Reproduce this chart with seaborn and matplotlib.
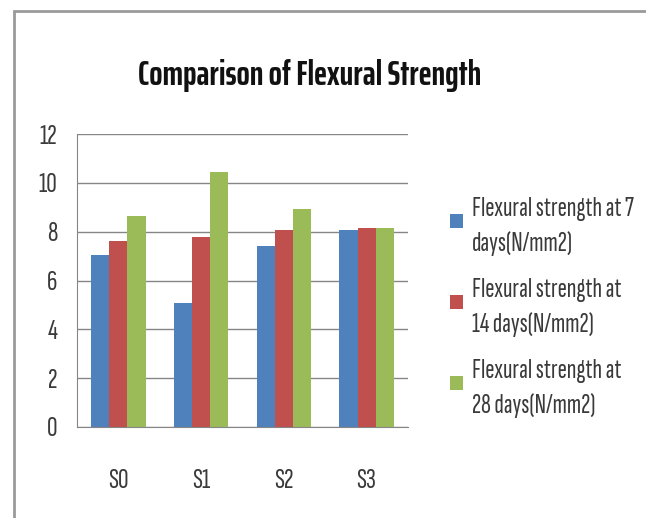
import pandas as pd
import matplotlib.pyplot as plt
import seaborn as sns
from matplotlib.patches import Rectangle
from matplotlib.legend_handler import HandlerPatch

sns.set_style("white")
plt.rcParams['font.family'] = ['Sofia Sans Extra Condensed', 'DejaVu Sans']

# chart data
mixes = ["S0", "S1", "S2", "S3"]
series = ["Flexural strength at 7\ndays(N/mm2)",
          "Flexural strength at\n14 days(N/mm2)",
          "Flexural strength at\n28 days(N/mm2)"]
day7 = [7.05, 5.08, 7.43, 8.07]
day14 = [7.6, 7.8, 8.07, 8.13]
day28 = [8.65, 10.44, 8.93, 8.13]
colors = ["#4F81BD", "#C0504D", "#9BBB59"]

df = pd.DataFrame({
    "mix": mixes * 3,
    "series": [series[0]] * 4 + [series[1]] * 4 + [series[2]] * 4,
    "value": day7 + day14 + day28,
})

fig = plt.figure(figsize=(6.46, 5.18), dpi=100)
# outer frame of the chart area
fig.patches.append(Rectangle((14 / 646, -0.01), 1.1, (518 - 11) / 518 + 0.01,
                             transform=fig.transFigure, fill=False,
                             edgecolor="#9a9a9a", linewidth=2))
ax = fig.add_axes([77 / 646, (518 - 427) / 518, (408 - 77) / 646, (427 - 134) / 518])

sns.barplot(data=df, x="mix", y="value", hue="series", palette=colors,
            width=0.66, gap=0, saturation=1, linewidth=0, ax=ax, legend=True)

ax.set_ylim(0, 12)
ax.set_yticks(range(0, 13, 2))
ax.yaxis.grid(True, color="#868686", linewidth=1)
ax.set_axisbelow(True)
ax.set_xlabel("")
ax.set_ylabel("")
for s in ["top", "right"]:
    ax.spines[s].set_visible(False)
ax.spines["left"].set_color("#868686")
ax.spines["bottom"].set_color("#868686")
ax.tick_params(axis="both", labelsize=21, labelcolor="#3a3a3a", length=0)
ax.tick_params(axis="y", pad=14)
ax.tick_params(axis="x", pad=30)

fig.text(0.48, 0.855, "Comparison of Flexural Strength", ha="center", va="center",
         family="Saira ExtraCondensed", fontsize=25, fontweight="bold", color="#111111")


def top_square(legend, orig_handle, xdescent, ydescent, width, height, fontsize):
    sq = 10
    return Rectangle((-xdescent, -ydescent + height - sq - 7), sq, sq)


handles, labels = ax.get_legend_handles_labels()
leg = ax.legend(handles, labels, loc="upper left", bbox_to_anchor=(1.05, 0.87),
                frameon=False, fontsize=20, handlelength=0.5, handleheight=2.2,
                handletextpad=0.3, labelspacing=0.8, labelcolor="#3a3a3a",
                handler_map={type(handles[0]): HandlerPatch(patch_func=top_square)})
for t in leg.get_texts():
    t.set_linespacing(1.5)

fig.savefig("out.png", dpi=100)
